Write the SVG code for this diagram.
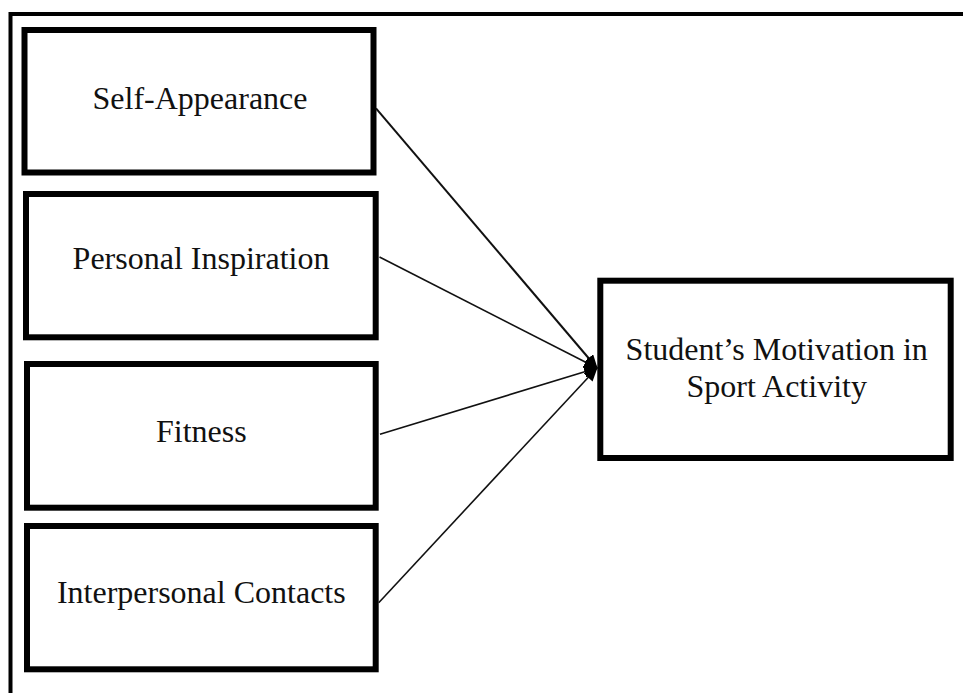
<svg xmlns="http://www.w3.org/2000/svg" width="963" height="693" viewBox="0 0 963 693">
<style>
.box{fill:#fff;stroke:#000;stroke-width:6}
.lbl{font-family:"Liberation Serif","Times New Roman",serif;font-size:32px;fill:#111;text-anchor:middle}
.con{stroke:#111;stroke-width:1.6;fill:none;marker-end:url(#ah)}
</style>
<defs>
<marker id="ah" markerUnits="userSpaceOnUse" markerWidth="14" markerHeight="12" refX="13" refY="6" orient="auto">
<path d="M0,0 L14,6 L0,12 z" fill="#000"/>
</marker>
</defs>
<rect width="963" height="693" fill="#fff"/>
<path d="M10.5,693 V14 H963" fill="none" stroke="#000" stroke-width="4"/>
<g id="self-appearance">
<rect class="box" x="24.5" y="30" width="349" height="142.5"/>
<text class="lbl" x="200" y="109">Self-Appearance</text>
</g>
<g id="personal-inspiration">
<rect class="box" x="26" y="194" width="349.7" height="143.3"/>
<text class="lbl" x="201" y="269">Personal Inspiration</text>
</g>
<g id="fitness">
<rect class="box" x="27" y="364" width="348.7" height="143.7"/>
<text class="lbl" x="201.3" y="441.5">Fitness</text>
</g>
<g id="interpersonal-contacts">
<rect class="box" x="27" y="526" width="348.7" height="143.3"/>
<text class="lbl" x="201.3" y="602.5">Interpersonal Contacts</text>
</g>
<g id="motivation">
<rect class="box" x="600.3" y="280.7" width="350.4" height="177.3" stroke-width="6.5"/>
<text class="lbl" x="776.7" y="360">Student’s Motivation in</text>
<text class="lbl" x="776.7" y="397">Sport Activity</text>
</g>
<g id="connectors">
<line class="con" x1="376" y1="108.3" x2="597" y2="368" style="stroke-width:2"/>
<line class="con" x1="379.5" y1="257" x2="597" y2="368"/>
<line class="con" x1="380" y1="434.3" x2="597" y2="368"/>
<line class="con" x1="378.7" y1="602.7" x2="597" y2="368"/>
</g>
</svg>
